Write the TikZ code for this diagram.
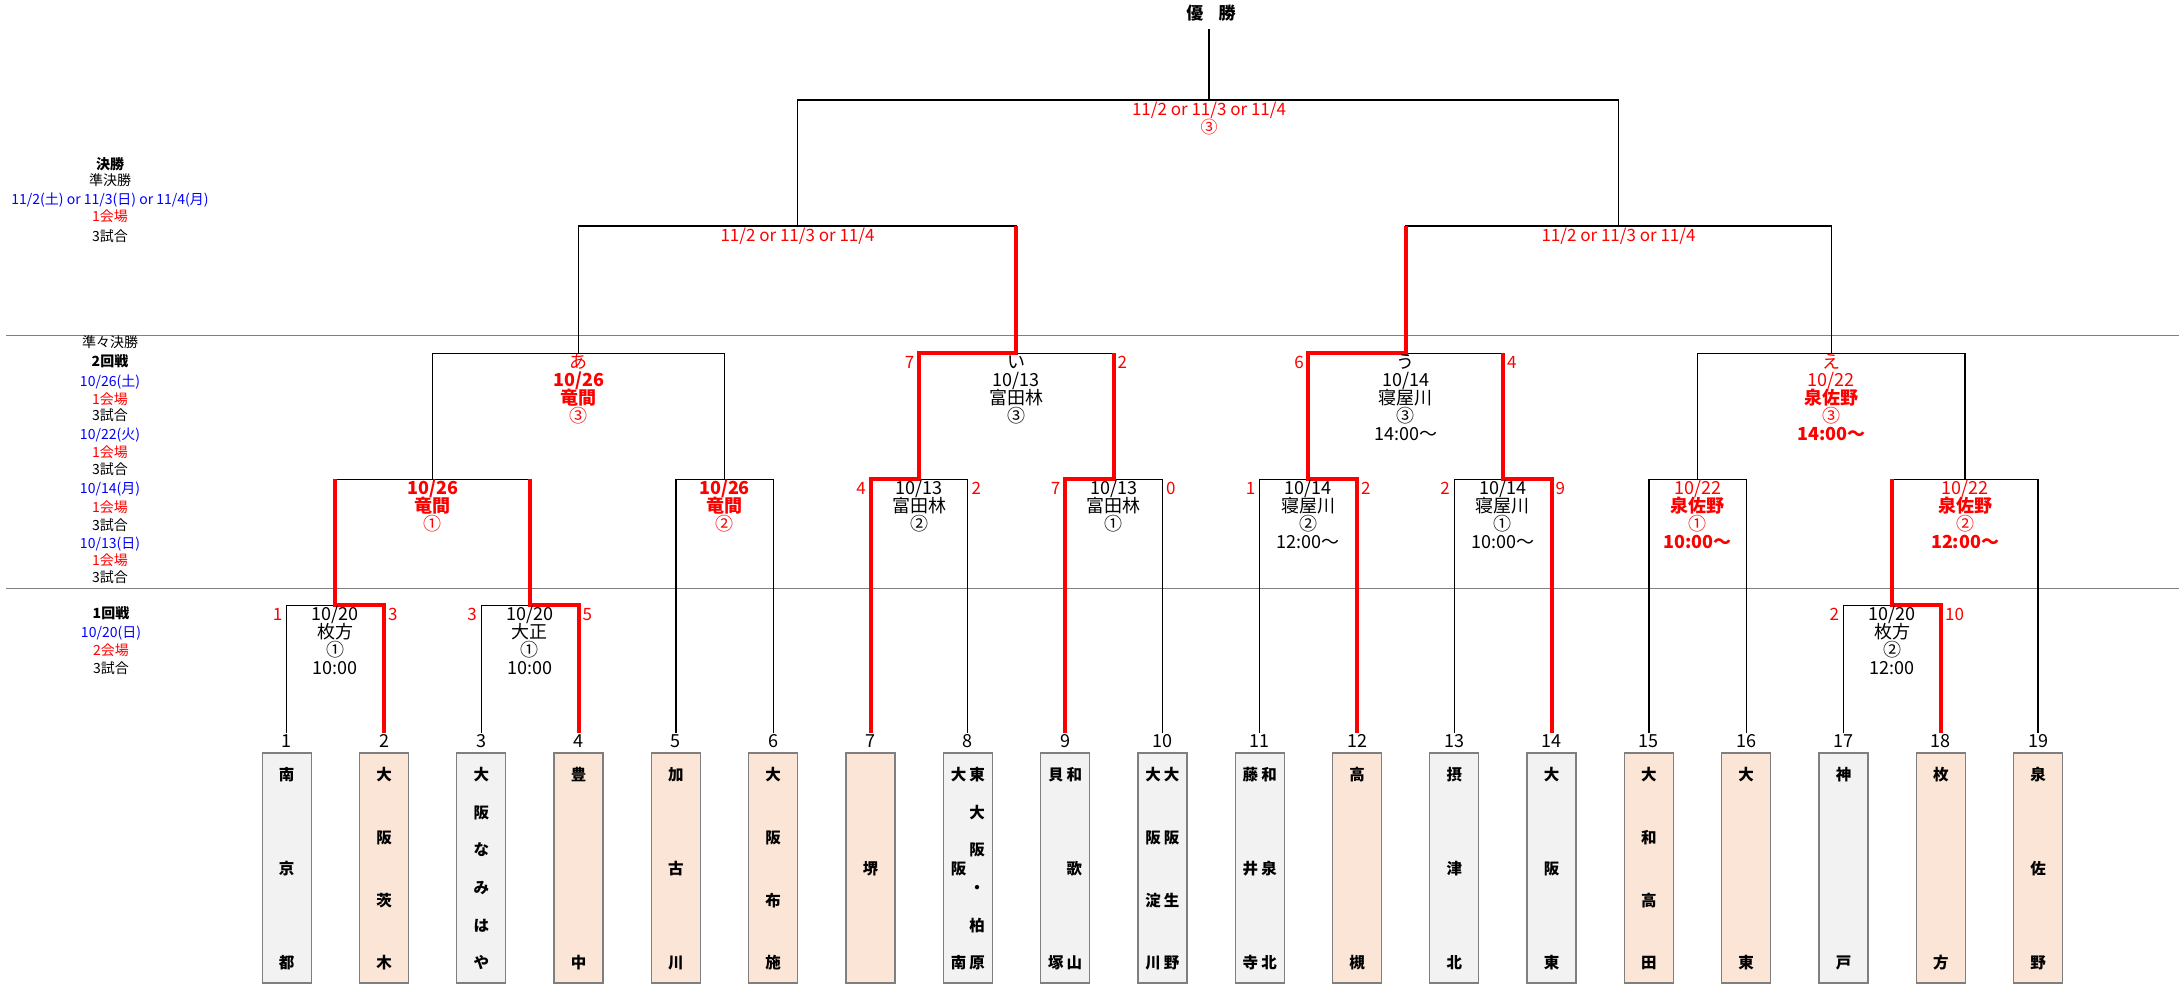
\documentclass[tikz,border=0pt]{standalone}
\usepackage{fontspec}
\setmainfont{Noto Sans CJK JP}
\definecolor{peach}{HTML}{FBE5D6}
\definecolor{lgray}{HTML}{F2F2F2}
\definecolor{bgray}{HTML}{7F7F7F}
\definecolor{rd}{HTML}{FF0000}
\definecolor{bl}{HTML}{0000FF}
\newcommand\fsz[1]{\fontsize{#1pt}{#1pt}\selectfont}
\newcommand\vcol[4]{\foreach \vc [count=\vk from 0] in {#4} {\node[tname] (#1-\vk) at (#2,{775+\vk*188/(#3-1)}) {\vc};}}
\newcommand\ml[6]{\node[#5] (#1) at (#2,{#3+9+18*#4}) {#6};}
\begin{document}
\begin{tikzpicture}[x=1pt,y=-1pt,
  mt/.style={inner sep=0pt, text height=13.3pt, text depth=0pt, font=\fsz{18}},
  mr/.style={mt, text=rd},
  mrb/.style={mt, text=rd, font=\fsz{18}\bfseries},
  sc/.style={inner sep=0pt, text height=12.6pt, text depth=0pt, font=\fsz{17}, text=rd},
  lt/.style={inner sep=0pt, text height=10.4pt, text depth=0pt, font=\fsz{14}},
  tname/.style={inner sep=0pt, text height=11.5pt, text depth=0pt, font=\fsz{15.5}\bfseries},
  num/.style={inner sep=0pt, text height=13.3pt, text depth=0pt, font=\fsz{18}},
  tbox/.style={draw=bgray, line width=1.3pt, minimum width=49pt, minimum height=230pt, inner sep=0pt},
  br/.style={line width=1.3pt, draw=black},
  win/.style={line width=4pt, draw=rd},
  sepline/.style={line width=1pt, draw=bgray}]
\useasboundingbox (0,0) rectangle (2179,984);

% separators
\draw[sepline] (6,335) -- (2179,335);
\draw[sepline] (6,588) -- (2179,588);

% team points, boxes, numbers
\foreach \i/\col in {1/lgray,2/peach,3/lgray,4/peach,5/peach,6/peach,7/peach,8/lgray,9/lgray,10/lgray,11/lgray,12/peach,13/lgray,14/lgray,15/peach,16/peach,17/lgray,18/peach,19/peach}{
  \coordinate (t\i) at ({286.7+(\i-1)*97.3},733);
  \node[tbox, fill=\col] (b\i) at ({286.7+(\i-1)*97.3},868) {};
  \node[num] (n\i) at ({286.7+(\i-1)*97.3},741) {\i};
}

% team names
\vcol{b1}{286.7}{3}{南,京,都}
\vcol{b2}{384.0}{4}{大,阪,茨,木}
\vcol{b3}{481.3}{6}{大,阪,な,み,は,や}
\vcol{b4}{578.6}{2}{豊,中}
\vcol{b5}{675.9}{3}{加,古,川}
\vcol{b6}{773.2}{4}{大,阪,布,施}
\node[tname] (b7-0) at (870.5,869) {堺};
\vcol{b8r}{977.1}{6}{東,大,阪,・,柏,原}
\vcol{b8l}{958.5}{3}{大,阪,南}
\vcol{b9r}{1074.4}{3}{和,歌,山}
\vcol{b9l}{1055.8}{2}{貝,塚}
\vcol{b10r}{1171.7}{4}{大,阪,生,野}
\vcol{b10l}{1153.1}{4}{大,阪,淀,川}
\vcol{b11r}{1269.0}{3}{和,泉,北}
\vcol{b11l}{1250.4}{3}{藤,井,寺}
\vcol{b12}{1357.0}{2}{高,槻}
\vcol{b13}{1454.3}{3}{摂,津,北}
\vcol{b14}{1551.6}{3}{大,阪,東}
\vcol{b15}{1648.9}{4}{大,和,高,田}
\vcol{b16}{1746.2}{2}{大,東}
\vcol{b17}{1843.5}{2}{神,戸}
\vcol{b18}{1940.8}{2}{枚,方}
\vcol{b19}{2038.1}{3}{泉,佐,野}

% match points
\coordinate (mA) at (335.35,605.3);
\coordinate (mB) at (529.95,605.3);
\coordinate (mR) at (1892.15,605.3);
\coordinate (mC) at (432.65,479.3);
\coordinate (mD) at (724.55,479.3);
\coordinate (mE) at (919.15,479.3);
\coordinate (mF) at (1113.75,479.3);
\coordinate (mG) at (1308.35,479.3);
\coordinate (mH) at (1502.95,479.3);
\coordinate (mI) at (1697.55,479.3);
\coordinate (mJ) at (1965.1,479.3);
\coordinate (mK) at (578.6,353.3);
\coordinate (mL) at (1016.45,353.3);
\coordinate (mM) at (1405.65,353.3);
\coordinate (mN) at (1831.3,353.3);
\coordinate (mO) at (797.5,226);
\coordinate (mP) at (1618.5,226);
\coordinate (mQ) at (1209,100);
\coordinate (champ) at (1209,29);

% black bracket
\draw[br] (t1) |- (mA) -| (t2);
\draw[br] (t3) |- (mB) -| (t4);
\draw[br] (t17) |- (mR) -| (t18);
\draw[br] (mA) |- (mC) -| (mB);
\draw[br] (t5) |- (mD) -| (t6);
\draw[br] (t7) |- (mE) -| (t8);
\draw[br] (t9) |- (mF) -| (t10);
\draw[br] (t11) |- (mG) -| (t12);
\draw[br] (t13) |- (mH) -| (t14);
\draw[br] (t15) |- (mI) -| (t16);
\draw[br] (mR) |- (mJ) -| (t19);
\draw[br] (mC) |- (mK) -| (mD);
\draw[br] (mE) |- (mL) -| (mF);
\draw[br] (mG) |- (mM) -| (mH);
\draw[br] (mI) |- (mN) -| (mJ);
\draw[br] (mK) |- (mO) -| (mL);
\draw[br] (mM) |- (mP) -| (mN);
\draw[br] (mO) |- (mQ) -| (mP);
\draw[br] (mQ) -- (champ);

% winner paths
\draw[win] (t2) |- (mA) -- (mA |- mC);
\draw[win] (t4) |- (mB) -- (mB |- mC);
\draw[win] (t18) |- (mR) -- (mR |- mJ);
\draw[win] (t7) |- (mE) -- (mE |- mL);
\draw[win] (t9) |- (mF) -- (mF |- mL);
\draw[win] (t12) |- (mG) -- (mG |- mM);
\draw[win] (t14) |- (mH) -- (mH |- mM);
\draw[win] (mE) |- (mL) -- (mL |- mO);
\draw[win] (mG) |- (mM) -- (mM |- mP);

% champion
\node[inner sep=0pt, font=\fsz{17}\bfseries] (yusho) at (1211,13) {優\hspace{0.9em}勝};

% final and semis labels
\node[sc] (lQ0) at (1209,109.3) {11/2 or 11/3 or 11/4};
\node[sc] (lQ1) at (1209,127.7) {③};
\node[sc] (lO0) at (797.5,235) {11/2 or 11/3 or 11/4};
\node[sc] (lP0) at (1618.5,235) {11/2 or 11/3 or 11/4};

% L3 labels
\ml{lK0}{578.6}{353.3}{0}{mr}{あ}
\ml{lK1}{578.6}{353.3}{1}{mrb}{10/26}
\ml{lK2}{578.6}{353.3}{2}{mrb}{竜間}
\ml{lK3}{578.6}{353.3}{3}{mr}{③}
\ml{lL0}{1016.45}{353.3}{0}{mt}{い}
\ml{lL1}{1016.45}{353.3}{1}{mt}{10/13}
\ml{lL2}{1016.45}{353.3}{2}{mt}{富田林}
\ml{lL3}{1016.45}{353.3}{3}{mt}{③}
\ml{lM0}{1405.65}{353.3}{0}{mt}{う}
\ml{lM1}{1405.65}{353.3}{1}{mt}{10/14}
\ml{lM2}{1405.65}{353.3}{2}{mt}{寝屋川}
\ml{lM3}{1405.65}{353.3}{3}{mt}{③}
\ml{lM4}{1405.65}{353.3}{4}{mt}{14:00～}
\ml{lN0}{1831.3}{353.3}{0}{mr}{え}
\ml{lN1}{1831.3}{353.3}{1}{mr}{10/22}
\ml{lN2}{1831.3}{353.3}{2}{mrb}{泉佐野}
\ml{lN3}{1831.3}{353.3}{3}{mr}{③}
\ml{lN4}{1831.3}{353.3}{4}{mrb}{14:00～}

% L2 labels
\ml{lC0}{432.65}{479.3}{0}{mrb}{10/26}
\ml{lC1}{432.65}{479.3}{1}{mrb}{竜間}
\ml{lC2}{432.65}{479.3}{2}{mr}{①}
\ml{lD0}{724.55}{479.3}{0}{mrb}{10/26}
\ml{lD1}{724.55}{479.3}{1}{mrb}{竜間}
\ml{lD2}{724.55}{479.3}{2}{mr}{②}
\ml{lE0}{919.15}{479.3}{0}{mt}{10/13}
\ml{lE1}{919.15}{479.3}{1}{mt}{富田林}
\ml{lE2}{919.15}{479.3}{2}{mt}{②}
\ml{lF0}{1113.75}{479.3}{0}{mt}{10/13}
\ml{lF1}{1113.75}{479.3}{1}{mt}{富田林}
\ml{lF2}{1113.75}{479.3}{2}{mt}{①}
\ml{lG0}{1308.35}{479.3}{0}{mt}{10/14}
\ml{lG1}{1308.35}{479.3}{1}{mt}{寝屋川}
\ml{lG2}{1308.35}{479.3}{2}{mt}{②}
\ml{lG3}{1308.35}{479.3}{3}{mt}{12:00～}
\ml{lH0}{1502.95}{479.3}{0}{mt}{10/14}
\ml{lH1}{1502.95}{479.3}{1}{mt}{寝屋川}
\ml{lH2}{1502.95}{479.3}{2}{mt}{①}
\ml{lH3}{1502.95}{479.3}{3}{mt}{10:00～}
\ml{lI0}{1697.55}{479.3}{0}{mr}{10/22}
\ml{lI1}{1697.55}{479.3}{1}{mrb}{泉佐野}
\ml{lI2}{1697.55}{479.3}{2}{mr}{①}
\ml{lI3}{1697.55}{479.3}{3}{mrb}{10:00～}
\ml{lJ0}{1965.1}{479.3}{0}{mr}{10/22}
\ml{lJ1}{1965.1}{479.3}{1}{mrb}{泉佐野}
\ml{lJ2}{1965.1}{479.3}{2}{mr}{②}
\ml{lJ3}{1965.1}{479.3}{3}{mrb}{12:00～}

% L1 labels
\ml{lA0}{335.35}{605.3}{0}{mt}{10/20}
\ml{lA1}{335.35}{605.3}{1}{mt}{枚方}
\ml{lA2}{335.35}{605.3}{2}{mt}{①}
\ml{lA3}{335.35}{605.3}{3}{mt}{10:00}
\ml{lB0}{529.95}{605.3}{0}{mt}{10/20}
\ml{lB1}{529.95}{605.3}{1}{mt}{大正}
\ml{lB2}{529.95}{605.3}{2}{mt}{①}
\ml{lB3}{529.95}{605.3}{3}{mt}{10:00}
\ml{lR0}{1892.15}{605.3}{0}{mt}{10/20}
\ml{lR1}{1892.15}{605.3}{1}{mt}{枚方}
\ml{lR2}{1892.15}{605.3}{2}{mt}{②}
\ml{lR3}{1892.15}{605.3}{3}{mt}{12:00}

% scores
\node[sc, anchor=east] (sA1) at (282.5,614.3) {1};
\node[sc, anchor=west] (sA2) at (388,614.3) {3};
\node[sc, anchor=east] (sB1) at (477,614.3) {3};
\node[sc, anchor=west] (sB2) at (582.5,614.3) {5};
\node[sc, anchor=east] (sR1) at (1839.3,614.3) {2};
\node[sc, anchor=west] (sR2) at (1945,614.3) {10};
\node[sc, anchor=east] (sE1) at (866,488.3) {4};
\node[sc, anchor=west] (sE2) at (971.5,488.3) {2};
\node[sc, anchor=east] (sF1) at (1060.5,488.3) {7};
\node[sc, anchor=west] (sF2) at (1166,488.3) {0};
\node[sc, anchor=east] (sG1) at (1255.5,488.3) {1};
\node[sc, anchor=west] (sG2) at (1361,488.3) {2};
\node[sc, anchor=east] (sH1) at (1450,488.3) {2};
\node[sc, anchor=west] (sH2) at (1555.5,488.3) {9};
\node[sc, anchor=east] (sL1) at (914.5,362.3) {7};
\node[sc, anchor=west] (sL2) at (1117.5,362.3) {2};
\node[sc, anchor=east] (sM1) at (1304,362.3) {6};
\node[sc, anchor=west] (sM2) at (1507,362.3) {4};

% left column
\node[lt, font=\fsz{14}\bfseries] (lc1) at (110,164) {決勝};
\node[lt] (lc2) at (110,180.7) {準決勝};
\node[lt, text=bl] (lc3) at (110,199) {11/2(土) or 11/3(日) or 11/4(月)};
\node[lt, text=rd] (lc4) at (110,216) {1会場};
\node[lt] (lc5) at (110,236) {3試合};
\node[lt] (lc6) at (110,342.3) {準々決勝};
\node[lt, font=\fsz{14}\bfseries] (lc7) at (110,361.7) {2回戦};
\node[lt, text=bl] (lc8) at (110,381) {10/26(土)};
\node[lt, text=rd] (lc9) at (110,399) {1会場};
\node[lt] (lc10) at (110,415.7) {3試合};
\node[lt, text=bl] (lc11) at (110,434.3) {10/22(火)};
\node[lt, text=rd] (lc12) at (110,452.3) {1会場};
\node[lt] (lc13) at (110,469) {3試合};
\node[lt, text=bl] (lc14) at (110,488.3) {10/14(月)};
\node[lt, text=rd] (lc15) at (110,507.7) {1会場};
\node[lt] (lc16) at (110,525) {3試合};
\node[lt, text=bl] (lc17) at (110,543.3) {10/13(日)};
\node[lt, text=rd] (lc18) at (110,560.7) {1会場};
\node[lt] (lc19) at (110,577.7) {3試合};
\node[lt, font=\fsz{14}\bfseries] (lc20) at (111,613) {1回戦};
\node[lt, text=bl] (lc21) at (111,632) {10/20(日)};
\node[lt, text=rd] (lc22) at (111,650.5) {2会場};
\node[lt] (lc23) at (111,668.5) {3試合};
\end{tikzpicture}
\end{document}
